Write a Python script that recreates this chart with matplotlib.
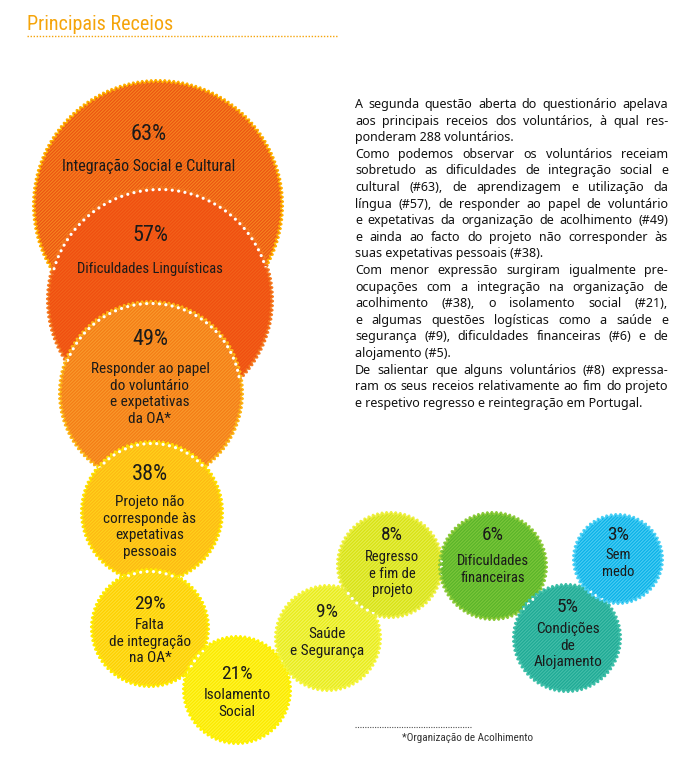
import numpy as np
import matplotlib
matplotlib.use('Agg')
import matplotlib.pyplot as plt
from matplotlib.patches import Polygon
from matplotlib import font_manager

# ---- data ----
title = "Principais Receios"
pcts = ["63%", "57%", "49%", "38%", "29%", "21%", "9%", "8%", "6%", "5%", "3%"]
labels = [
    ["Integração Social e Cultural"],
    ["Dificuldades Linguísticas"],
    ["Responder ao papel", "do voluntário", "e expetativas", "da OA*"],
    ["Projeto não", "corresponde às", "expetativas", "pessoais"],
    ["Falta", "de integração", "na OA*"],
    ["Isolamento", "Social"],
    ["Saúde", "e Segurança"],
    ["Regresso", "e fim de", "projeto"],
    ["Dificuldades", "financeiras"],
    ["Condições", "de", "Alojamento"],
    ["Sem", "medo"],
]
paragraph = [
    ("A segunda questão aberta do questionário apelava", True),
    ("aos principais receios dos voluntários, à qual res-", True),
    ("ponderam 288 voluntários.", False),
    ("Como podemos observar os voluntários receiam", True),
    ("sobretudo as dificuldades de integração social e", True),
    ("cultural (#63), de aprendizagem e utilização da", True),
    ("língua (#57), de responder ao papel de voluntário", True),
    ("e expetativas da organização de acolhimento (#49)", True),
    ("e ainda ao facto do projeto não corresponder às", True),
    ("suas expetativas pessoais (#38).", False),
    ("Com menor expressão surgiram igualmente pre-", True),
    ("ocupações com a integração na organização de", True),
    ("acolhimento (#38), o isolamento social (#21),", True),
    ("e algumas questões logísticas como a saúde e", True),
    ("segurança (#9), dificuldades financeiras (#6) e de", True),
    ("alojamento (#5).", False),
    ("De salientar que alguns voluntários (#8) expressa-", True),
    ("ram os seus receios relativamente ao fim do projeto", True),
    ("e respetivo regresso e reintegração em Portugal.", False),
]
footnote = "*Organização de Acolhimento"

# ---- layout (pixels, y down) ----
centers = [(158, 205), (160, 300), (151, 393), (152, 512), (150, 628), (237, 690),
           (328, 638), (390, 565), (493, 566), (567, 638), (618, 559)]
radii = [124, 112, 91, 70, 58, 53, 52, 52, 53, 53, 44]
text_x = [149, 150, 150, 150, 150, 237, 327, 392, 493, 568, 618]
pct_y = [140, 241, 345, 480, 609, 679, 617, 540, 540, 612, 540]
lab_y = [171, 273, 373, 506, 629, 699, 638, 561, 565, 633, 559]
pct_size = [16, 16, 16, 16, 14, 14, 14, 14, 14, 14, 14]
lab_size = [11.5, 10.5, 11, 11, 11, 11, 11, 10.5, 10.5, 11, 10.5]
line_h = 16.6
base_cols = ["#EC5412", "#F04E10", "#F47C16", "#FDB913", "#FDD000", "#FBE800",
             "#E8EC1A", "#D8E214", "#5AB52A", "#1FAA95", "#0AB2E8"]
stripe_cols = ["#F6851F", "#F2621A", "#F99A2C", "#FFD21C", "#FFE030", "#FFF530",
               "#F2F55A", "#E6EE4C", "#7CC63A", "#45BEAA", "#4CCCF2"]
edge_cols = ["#FFB000", "#F47A20", "#FDB515", "#FFE000", "#FFEB00", "#FFF200",
             "#F5F53A", "#EEF040", "#8CCB3A", "#3CBFA8", "#4AD0F5"]

names = {f.name for f in font_manager.fontManager.ttflist}
NARROW = 'DejaVu Sans'
for cand in ['Liberation Sans Narrow', 'Roboto Condensed', 'Roboto']:
    if cand in names:
        NARROW = cand
        break

W, H = 691, 762
fig = plt.figure(figsize=(W / 100, H / 100), dpi=100)
ax = fig.add_axes([0, 0, 1, 1])
ax.set_xlim(0, W)
ax.set_ylim(H, 0)
ax.axis('off')
plt.rcParams['hatch.linewidth'] = 0.8


def jagged(cx, cy, r):
    n = int(2 * np.pi * r / 4.5)
    th = np.linspace(0, 2 * np.pi, n * 10, endpoint=False)
    rr = r + 1.4 * np.sin(n * th)
    return np.column_stack([cx + rr * np.cos(th), cy + rr * np.sin(th)])


patches = []
for i, ((cx, cy), r) in enumerate(zip(centers, radii)):
    pts = jagged(cx, cy, r)
    poly = Polygon(pts, closed=True, facecolor=base_cols[i],
                   edgecolor=stripe_cols[i], lw=0, hatch='/' * 10, zorder=2 + i)
    ax.add_patch(poly)
    patches.append(poly)
    ax.add_patch(Polygon(pts, closed=True, fill=False, edgecolor=edge_cols[i],
                         lw=1.0, zorder=2 + i))
    if i > 0:
        th = np.linspace(0, 2 * np.pi, 400)
        ln, = ax.plot(cx + (r - 1.5) * np.cos(th), cy + (r - 1.5) * np.sin(th),
                      color='white', lw=2.3, linestyle=(0, (0.01, 2.0)),
                      dash_capstyle='round', zorder=2 + i)
        ln.set_clip_path(patches[i - 1])

for i in range(len(pcts)):
    ax.text(text_x[i], pct_y[i], pcts[i], ha='center', va='baseline',
            fontsize=pct_size[i], family=NARROW, color='#1a1a1a', zorder=30)
    for j, s in enumerate(labels[i]):
        ax.text(text_x[i], lab_y[i] + j * line_h, s, ha='center', va='baseline',
                fontsize=lab_size[i], family=NARROW, color='#1a1a1a', zorder=30)

# title + dotted rule
ax.text(27, 30, title, fontsize=14.5, family=NARROW, color='#F5A40A', va='baseline')
ax.plot([27, 338], [36, 36], color='#F5A40A', lw=1.0, linestyle=(0, (1, 1.2)))

# justified paragraph
renderer = fig.canvas.get_renderer()
x0, x1, y0 = 355, 668, 108
pkw = dict(fontsize=9.0, family='Noto Sans', color='#111111', va='baseline')


def width(s):
    t = ax.text(0, 0, s, **pkw)
    w = t.get_window_extent(renderer).width
    t.remove()
    return w


for k, (line, just) in enumerate(paragraph):
    y = y0 + k * line_h
    words = line.split()
    if not just or len(words) < 2:
        ax.text(x0, y, line, **pkw)
        continue
    ws = [width(w) for w in words]
    gap = (x1 - x0 - sum(ws)) / (len(words) - 1)
    x = x0
    for w, wd in zip(words, ws):
        ax.text(x, y, w, **pkw)
        x += wd + gap

# footnote
ax.plot([355, 472], [727, 727], color='#555555', lw=0.8, linestyle=(0, (1, 1.2)))
ax.text(402, 741, footnote, fontsize=8, family=NARROW, color='#333333', va='baseline')

fig.savefig('out.png', dpi=100)
